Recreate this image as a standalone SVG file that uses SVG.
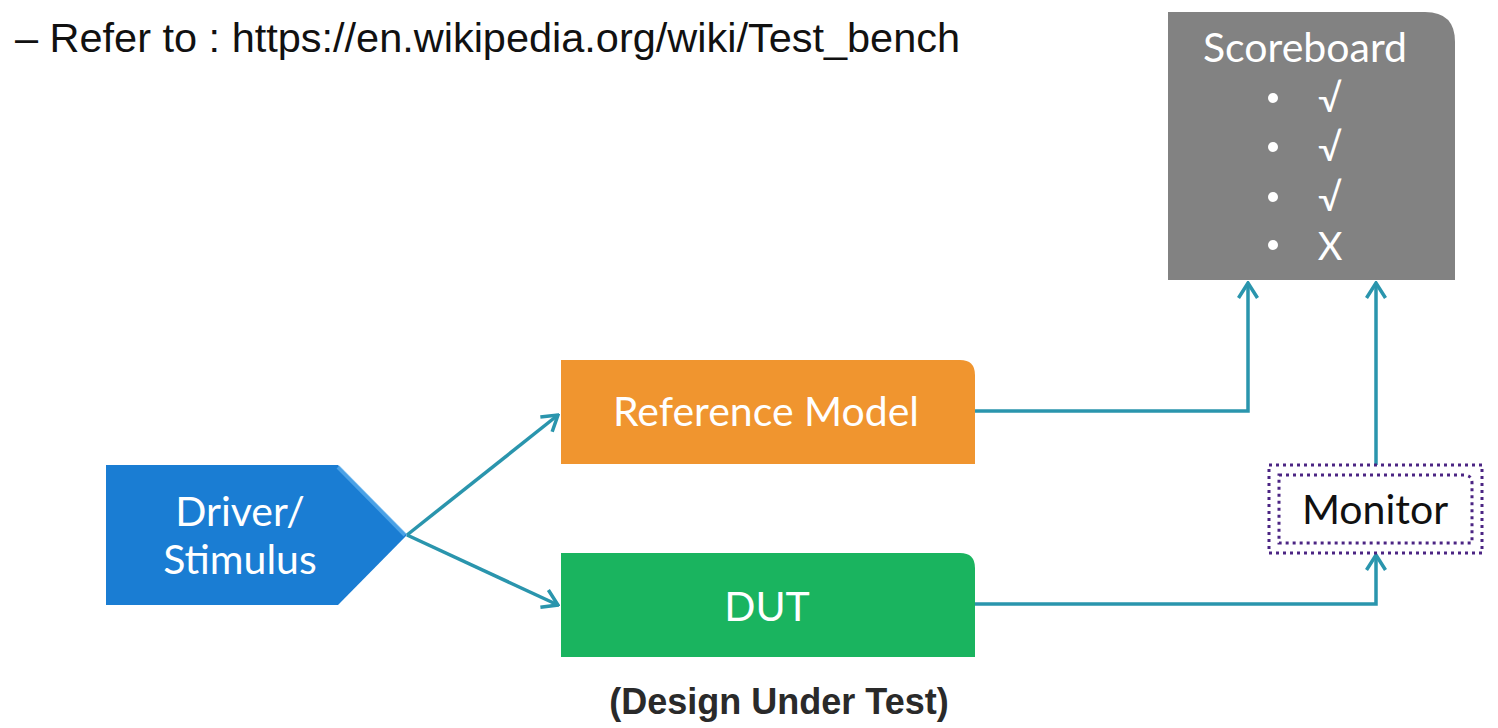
<svg xmlns="http://www.w3.org/2000/svg" width="1498" height="728" viewBox="0 0 1498 728">
<defs>
<style>
.lbl{font-family:Lato,"Open Sans","Liberation Sans",sans-serif;fill:#ffffff;text-anchor:middle}
.conn{fill:none;stroke:#2a95ad;stroke-width:3.5;stroke-linejoin:miter}
</style>
<marker id="arr" viewBox="0 0 20 22" refX="18" refY="11" markerWidth="20" markerHeight="22" markerUnits="userSpaceOnUse" orient="auto">
<path d="M3,1.5 L18,11 L3,20.5" fill="none" stroke="#2a95ad" stroke-width="3.5"/>
</marker>
</defs>
<rect width="1498" height="728" fill="#ffffff"/>
<text x="15" y="52" font-family="'Liberation Sans',Arial,sans-serif" font-size="40" fill="#111111" textLength="945" lengthAdjust="spacingAndGlyphs">– Refer to : https://en.wikipedia.org/wiki/Test_bench</text>

<g id="connectors">
<path class="conn" d="M407,535 L558,415" marker-end="url(#arr)"/>
<path class="conn" d="M407,535 L558,605" marker-end="url(#arr)"/>
<path class="conn" d="M975,411 L1248,411 L1248,283" marker-end="url(#arr)"/>
<path class="conn" d="M975,604 L1376,604 L1376,555" marker-end="url(#arr)"/>
<path class="conn" d="M1376,465 L1376,283" marker-end="url(#arr)"/>
</g>

<g id="driver">
<path d="M106,465 L338,465 L407,535 L338,605 L106,605 Z" fill="#1a7dd3"/>
<path d="M338,467 L405,535" stroke="#5fb0ee" stroke-width="4" fill="none" opacity="0.7"/>
<text class="lbl" x="240" y="526" font-size="41">Driver/</text>
<text class="lbl" x="240" y="574" font-size="41">Stimulus</text>
</g>

<g id="refmodel">
<path d="M561,360 L960,360 Q975,360 975,375 L975,464 L561,464 Z" fill="#f0952f"/>
<text class="lbl" x="766" y="426" font-size="41">Reference Model</text>
</g>

<g id="dut">
<path d="M561,553 L960,553 Q975,553 975,568 L975,657 L561,657 Z" fill="#1ab45f"/>
<text class="lbl" x="767" y="621" font-size="41">DUT</text>
</g>
<text x="779" y="714" font-family="'Liberation Sans',Arial,sans-serif" font-weight="bold" font-size="36" fill="#2a2a2a" text-anchor="middle">(Design Under Test)</text>

<g id="scoreboard">
<path d="M1168,12 L1425,12 Q1455,12 1455,42 L1455,280 L1168,280 Z" fill="#828282"/>
<text class="lbl" x="1305" y="62" font-size="41">Scoreboard</text>
<circle cx="1273" cy="98" r="5" fill="#ffffff"/>
<circle cx="1273" cy="147" r="5" fill="#ffffff"/>
<circle cx="1273" cy="197" r="5" fill="#ffffff"/>
<circle cx="1273" cy="245" r="5" fill="#ffffff"/>
<text class="lbl" x="1330" y="112" font-size="38">√</text>
<text class="lbl" x="1330" y="161" font-size="38">√</text>
<text class="lbl" x="1330" y="211" font-size="38">√</text>
<text class="lbl" x="1330" y="260" font-size="38">X</text>
</g>

<g id="monitor">
<rect x="1269" y="465" width="213" height="88" fill="#ffffff" stroke="#4b2483" stroke-width="3" stroke-dasharray="3 4"/>
<path d="M1279,475 L1464,475 Q1472,475 1472,483 L1472,543 L1279,543 Z" fill="none" stroke="#4b2483" stroke-width="3" stroke-dasharray="3 4"/>
<text x="1375" y="524" font-family="Lato,'Open Sans','Liberation Sans',sans-serif" font-size="41" fill="#111111" text-anchor="middle">Monitor</text>
</g>
</svg>
